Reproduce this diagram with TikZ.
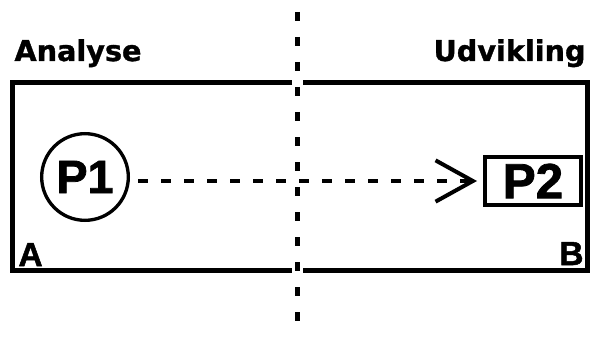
\documentclass[tikz,border=0pt]{standalone}
\usepackage{fontspec}
\setmainfont{Liberation Sans}[BoldFeatures={FakeBold=1.6}]
\newfontfamily\headfont{DejaVu Sans}[BoldFeatures={FakeBold=1.2}]
\usetikzlibrary{arrows.meta, positioning}

\begin{document}
\begin{tikzpicture}[
    x=0.75pt, y=0.75pt,
    line width=3.75pt,
    phase/.style={font=\headfont\bfseries\fontsize{21.5}{24}\selectfont, inner sep=0pt},
    corner/.style={font=\bfseries\fontsize{25}{28}\selectfont, inner sep=0pt},
    proc/.style={draw, font=\bfseries\fontsize{#1}{#1}\selectfont, inner sep=0pt},
    divider/.style={dash pattern=on 6.5pt off 12.25pt, line width=3.75pt},
    flow/.style={dash pattern=on 7.5pt off 9.75pt, line width=3.25pt, -{Straight Barb[length=28pt, width=31pt, line width=3pt]}}
]
    \useasboundingbox (0,0) rectangle (595,336);

    % Phase headings
    \node[phase, anchor=base west] (analyse) at (12,275) {Analyse};
    \node[phase, anchor=base east] (udvikling) at (588,275) {Udvikling};

    % Two open frames, one on each side of the divider
    \draw (292,253.5) -- (12.5,253.5) -- (12.5,65.5) -- (292,65.5);
    \draw (303,253.5) -- (587.5,253.5) -- (587.5,65.5) -- (303,65.5);

    % Divider between the phases
    \coordinate (div_top) at (297,324);
    \coordinate (div_bot) at (297,0);
    \draw[divider] (div_top) -- (div_bot);

    % Corner labels
    \node[corner, anchor=base west] (lbl_a) at (16,70) {A};
    \node[corner, anchor=base east] (lbl_b) at (586,71) {B};

    % Processes
    \node[proc=35, circle, minimum size=65pt, line width=2.5pt] (p1) at (85,159) {P1};
    \node[proc=37, rectangle, minimum width=72pt, minimum height=36pt, line width=3pt] (p2) at (533,155) {P2};

    % Hand-over from P1 to P2
    \draw[flow, shorten <=6pt, shorten >=4.5pt] (p1.east |- p2.west) -- (p2.west);

\end{tikzpicture}
\end{document}
